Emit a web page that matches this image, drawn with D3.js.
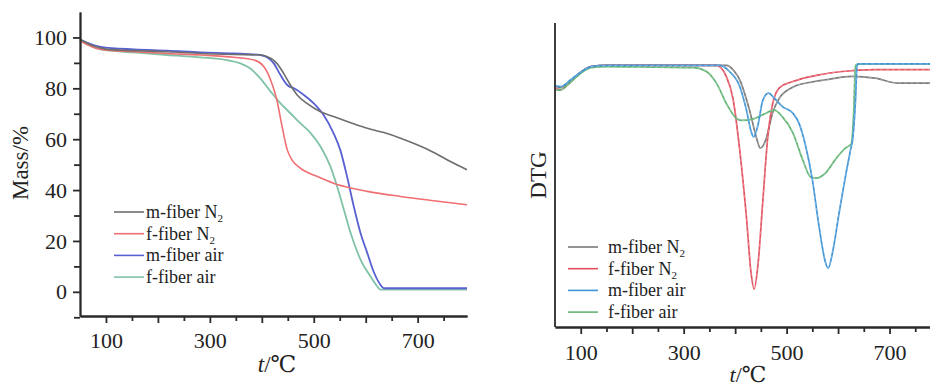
<!DOCTYPE html>
<html>
<head>
<meta charset="utf-8">
<script src="https://cdn.jsdelivr.net/npm/d3@7"></script>
<style>
  body { margin: 0; background: #fff; }
  svg { display: block; font-family: "Liberation Serif", "DejaVu Serif", serif; }
  .axis path, .axis line { stroke: #2a2a2a; stroke-width: 1.8; }
  .axis text { font-size: 22px; fill: #222; font-family: "Liberation Serif", "DejaVu Serif", serif; }
  .legend text { font-size: 18px; fill: #222; }
</style>
</head>
<body>
<svg width="930" height="389"></svg>
<script>
// series names and colours
var seriesNames = ["m-fiber N2", "f-fiber N2", "m-fiber air", "f-fiber air"];
var tgColors = ["#6e6e6e", "#ef6f72", "#5860d2", "#80c2a6"];
var dtgColors = ["#7a7a7a", "#e2505f", "#3f94d6", "#62b574"];

// TG curves: [temperature, mass %]
var tgMfiberN2 = [[50,99.2],[77,96.6],[103,95.3],[154,94.8],[218,94.4],[282,93.7],[346,93.3],[397,93.1],[417,91.8],[429,89.8],[442,85.9],[455,81.3],[468,77.4],[487,74.1],[513,70.8],[538,68.9],[571,66.5],[603,64.3],[635,62.6],[667,60.4],[699,57.8],[731,54.8],[763,51.2],[795,48]];
var tgFfiberN2 = [[50,98.7],[90,95.3],[154,94.4],[218,93.7],[282,93.1],[346,92.2],[385,91.1],[404,88.5],[417,83.3],[429,75.4],[439,65],[449,55.8],[458,51.9],[474,48.6],[506,45.4],[538,42.7],[571,40.8],[603,39.5],[667,37.5],[731,35.8],[795,34.2]];
var tgMfiberAir = [[50,99.2],[90,96.3],[154,95.3],[218,94.8],[282,94.1],[346,93.7],[397,93.1],[410,92.2],[423,89.8],[436,85.2],[449,81.3],[462,80],[481,77.4],[500,74.1],[519,69.5],[538,62.4],[551,55.8],[564,45.4],[577,33.6],[590,23.1],[603,15.3],[615,8.1],[628,2.9],[635,1.4],[700,1.4],[795,1.4]];
var tgFfiberAir = [[50,98.7],[90,95.3],[154,94.1],[218,93.1],[282,92.2],[333,91.1],[359,89.8],[378,87.8],[397,83.9],[417,78.7],[436,74.1],[455,70.2],[474,66.3],[494,62.4],[513,57.1],[532,49.3],[545,41.4],[558,32.3],[571,23.1],[590,12.7],[609,6.1],[622,2.2],[628,0.9],[700,0.9],[795,0.9]];

// DTG curves: [temperature, DTG (arb. units)]
var dtgMfiberN2 = [[50,-9],[60,-10],[80,-7],[100,-3],[120,-0.5],[150,0],[250,0],[350,0],[383,0],[398,-2.5],[409,-6.4],[428,-20],[441,-32],[449,-37],[460,-33],[473,-21],[486,-14.6],[512,-9.7],[544,-7.6],[576,-6.4],[627,-4.9],[672,-5.7],[717,-7.9],[800,-7.9]];
var dtgFfiberN2 = [[50,-10],[60,-11],[80,-7.5],[100,-3],[120,-0.5],[150,0],[250,0],[364,0],[383,-5],[396,-15],[409,-38],[422,-68],[431,-93],[437,-100],[444,-90],[454,-60],[463,-33],[473,-17],[486,-10],[512,-7.2],[563,-4.2],[608,-2.7],[672,-1.9],[800,-1.9]];
var dtgMfiberAir = [[50,-9],[60,-9.5],[80,-6.5],[100,-3],[120,-0.5],[150,0],[250,0],[370,0],[389,-2.7],[409,-9.4],[422,-20],[431,-29.5],[436,-32],[444,-27],[454,-15.4],[465,-12.4],[476,-14.6],[492,-18.4],[512,-21.3],[524,-25.8],[537,-36],[550,-51],[563,-72],[576,-88.5],[581,-90.7],[589,-84],[602,-66],[614,-50],[624,-38],[629,-32],[634,-15],[637,0],[640,0.7],[700,0.7],[800,0.7]];
var dtgFfiberAir = [[50,-11],[60,-11],[80,-7.5],[100,-3.5],[120,-1],[150,-0.5],[250,-0.8],[319,-1],[344,-2.7],[364,-8],[383,-17],[402,-23.6],[412,-24.6],[434,-24],[454,-22],[476,-20],[492,-23],[512,-30],[531,-42],[547,-50],[557,-50.4],[576,-48],[595,-42],[614,-37],[626,-35],[630,-23],[634,0],[640,0.7],[700,0.7],[800,0.7]];

// axis ticks
var xLabelTicks = [100, 300, 500, 700];
var xMajorTicks = [100, 200, 300, 400, 500, 600, 700];
var xMinorTicks = [150, 250, 350, 450, 550, 650, 750];
var yLabelTicks = [0, 20, 40, 60, 80, 100];
var yMinorTicks = [-10, 10, 30, 50, 70, 90];

var tgData = [tgMfiberN2, tgFfiberN2, tgMfiberAir, tgFfiberAir];
var dtgData = [dtgMfiberN2, dtgFfiberN2, dtgMfiberAir, dtgFfiberAir];

var svg = d3.select("svg");

// ---------- left panel: TG ----------
var x1 = d3.scaleLinear().domain([50, 795]).range([80, 467]);
var y1 = d3.scaleLinear().domain([-9.5, 110]).range([316, 12]);

var left = svg.append("g");

var line1 = d3.line()
  .x(function (d) { return x1(d[0]); })
  .y(function (d) { return y1(d[1]); })
  .curve(d3.curveMonotoneX);

// draw in reverse so the first series sits on top like the original
[3, 2, 1, 0].forEach(function (i) {
  left.append("path")
    .datum(tgData[i])
    .attr("fill", "none")
    .attr("stroke", tgColors[i])
    .attr("stroke-width", i >= 2 ? 1.8 : 1.6)
    .attr("d", line1);
});

// x axis
left.append("g").attr("class", "axis")
  .attr("transform", "translate(0,316)")
  .call(d3.axisBottom(x1).tickValues(xMinorTicks).tickSize(5).tickFormat("").tickSizeOuter(0));
left.append("g").attr("class", "axis")
  .attr("transform", "translate(0,316)")
  .call(d3.axisBottom(x1).tickValues(xMajorTicks).tickSize(7).tickSizeOuter(0).tickPadding(9)
    .tickFormat(function (d) { return xLabelTicks.indexOf(d) >= 0 ? d : ""; }));

// y axis
left.append("g").attr("class", "axis")
  .attr("transform", "translate(80,0)")
  .call(d3.axisLeft(y1).tickValues(yMinorTicks).tickSize(6).tickFormat("").tickSizeOuter(0));
left.append("g").attr("class", "axis")
  .attr("transform", "translate(80,0)")
  .call(d3.axisLeft(y1).tickValues(yLabelTicks).tickSize(7).tickSizeOuter(0).tickPadding(6));

left.append("text")
  .attr("transform", "translate(28,163) rotate(-90)")
  .attr("text-anchor", "middle")
  .style("font-size", "23px")
  .attr("fill", "#222")
  .text("Mass/%");

var xl1 = left.append("text")
  .attr("x", 277).attr("y", 372)
  .attr("text-anchor", "middle")
  .style("font-size", "23px")
  .attr("fill", "#222");
xl1.append("tspan").style("font-style", "italic").text("t");
xl1.append("tspan").text("/℃");

// legend
function legend(g, lx, ly, colors) {
  var lg = g.append("g").attr("class", "legend");
  seriesNames.forEach(function (name, i) {
    var yy = ly + i * 21.7;
    lg.append("line")
      .attr("x1", lx).attr("x2", lx + 30)
      .attr("y1", yy).attr("y2", yy)
      .attr("stroke", colors[i]).attr("stroke-width", 1.6);
    var t = lg.append("text").attr("x", lx + 32 + (lx > 500 ? 8 : 0)).attr("y", yy + 6);
    if (name.slice(-2) === "N2") {
      t.append("tspan").text(name.slice(0, -1));
      t.append("tspan").attr("dy", 4).style("font-size", "11px").text("2");
    } else {
      t.text(name);
    }
  });
}
legend(left, 114, 212, tgColors);

// ---------- right panel: DTG ----------
var x2 = d3.scaleLinear().domain([50, 800]).range([555, 941]);
var y2 = d3.scaleLinear().domain([-117, 19]).range([327, 23]);

var right = svg.append("g");

var line2 = d3.line()
  .x(function (d) { return x2(d[0]); })
  .y(function (d) { return y2(d[1]); })
  .curve(d3.curveMonotoneX);

[0, 1, 3, 2].forEach(function (i) {
  right.append("path")
    .datum(dtgData[i])
    .attr("fill", "none")
    .attr("stroke", dtgColors[i])
    .attr("stroke-width", 1.7)
    .attr("d", line2);
  right.append("path")
    .datum(dtgData[i])
    .attr("fill", "none")
    .attr("stroke", "rgba(255,255,255,0.45)")
    .attr("stroke-width", 0.7)
    .attr("stroke-dasharray", "3,3")
    .attr("d", line2);
});

right.append("g").attr("class", "axis")
  .attr("transform", "translate(0,327)")
  .call(d3.axisBottom(x2).tickValues(xMinorTicks).tickSize(5).tickFormat("").tickSizeOuter(0));
right.append("g").attr("class", "axis")
  .attr("transform", "translate(0,327)")
  .call(d3.axisBottom(x2).tickValues(xMajorTicks).tickSize(7).tickSizeOuter(0).tickPadding(10)
    .tickFormat(function (d) { return xLabelTicks.indexOf(d) >= 0 ? d : ""; }));

right.append("line")
  .attr("x1", 555).attr("x2", 555)
  .attr("y1", 23).attr("y2", 327)
  .attr("stroke", "#2a2a2a").attr("stroke-width", 1.8);

right.append("text")
  .attr("transform", "translate(546,175) rotate(-90)")
  .attr("text-anchor", "middle")
  .style("font-size", "23px")
  .attr("fill", "#222")
  .text("DTG");

var xl2 = right.append("text")
  .attr("x", 748).attr("y", 382)
  .attr("text-anchor", "middle")
  .style("font-size", "22px")
  .attr("fill", "#222");
xl2.append("tspan").style("font-style", "italic").text("t");
xl2.append("tspan").text("/℃");

legend(right, 568, 247, dtgColors);
</script>
</body>
</html>
